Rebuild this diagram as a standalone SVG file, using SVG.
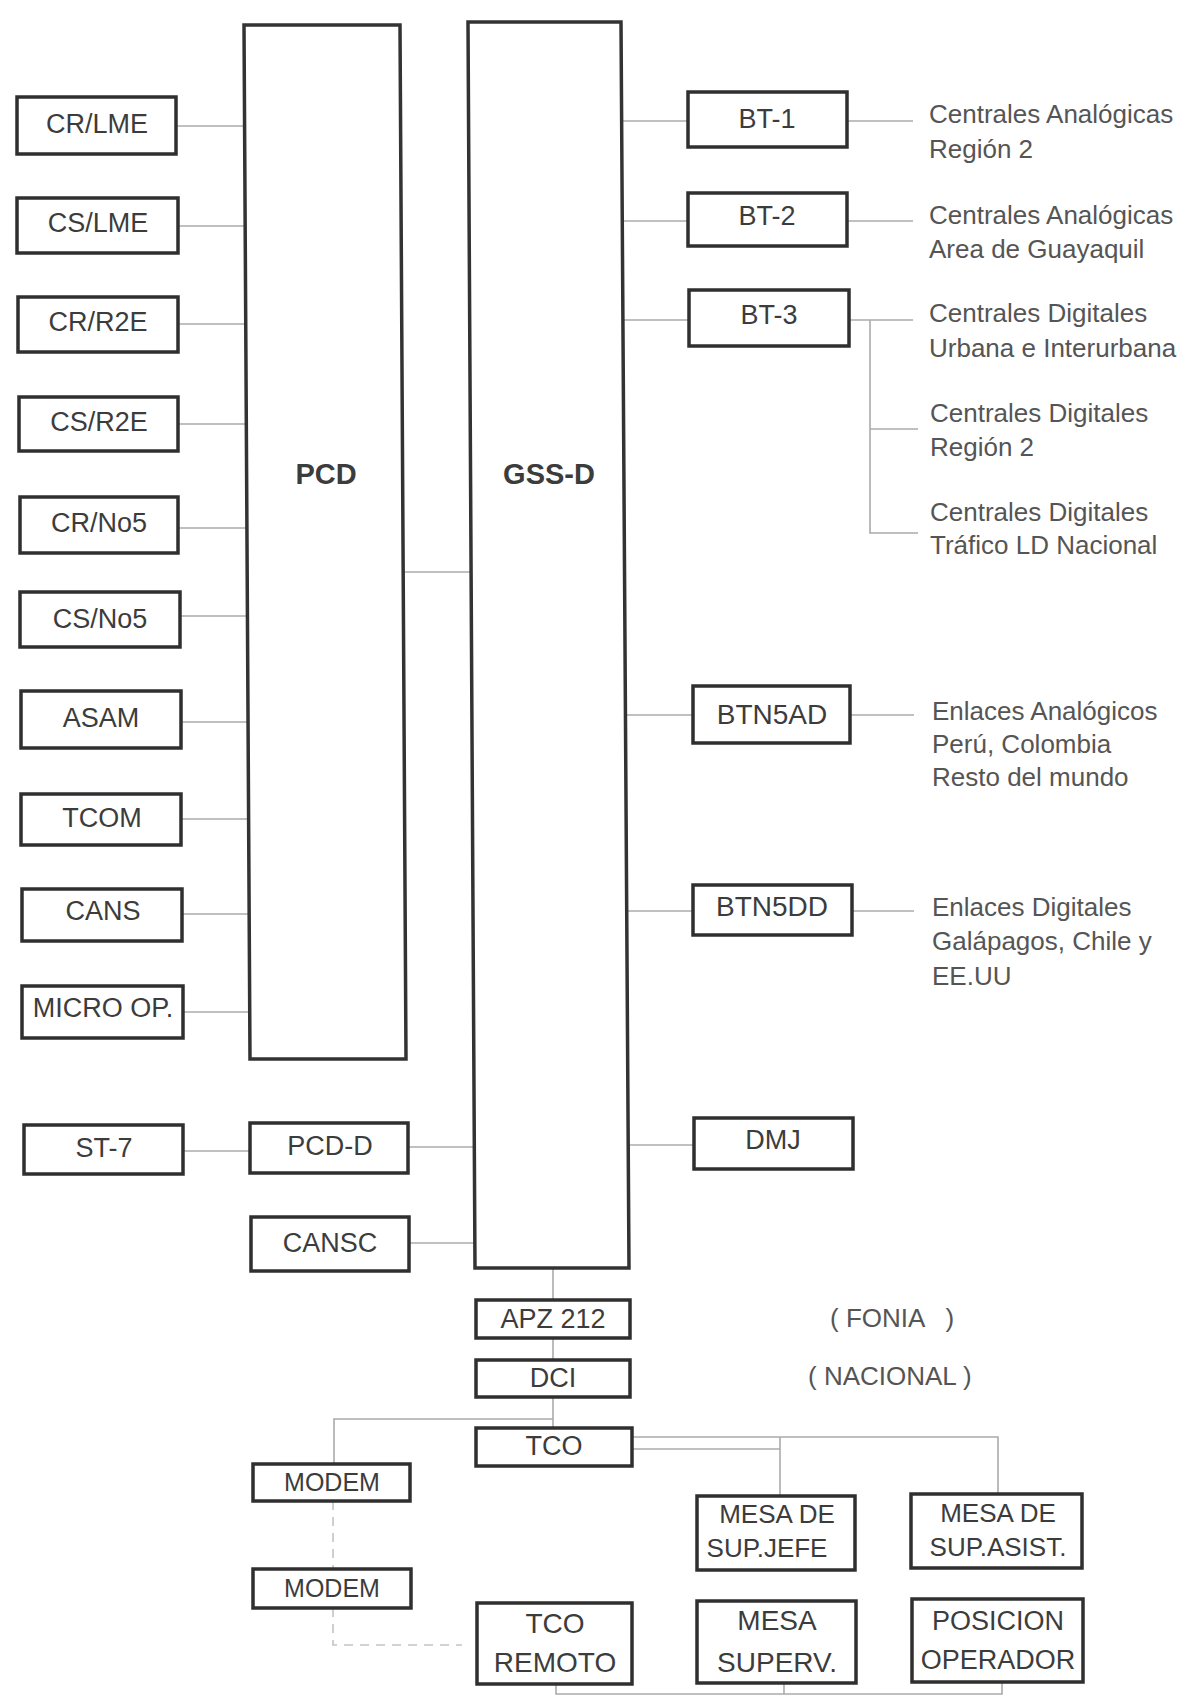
<svg xmlns="http://www.w3.org/2000/svg" width="1193" height="1697" viewBox="0 0 1193 1697">
<style>
.box{fill:#fff;stroke:#2f2f2f;stroke-width:3.5}
.big{fill:#fff;stroke:#333;stroke-width:3.5}
.lbl{font-family:"Liberation Sans",Arial,sans-serif;font-size:27px;fill:#3c3c3c;text-anchor:middle}
.s25{font-size:25px}
.s26{font-size:26px}
.s28{font-size:28px}
.bold{font-weight:bold;font-size:29px}
.desc{font-family:"Liberation Sans",Arial,sans-serif;font-size:26px;fill:#555}
.pre{white-space:pre}
.conn{stroke:#ababab;stroke-width:1.6;fill:none}
.dash{stroke:#c4c4c4;stroke-dasharray:9 7}
</style>
<rect width="1193" height="1697" fill="#fff"/>
<g id="connectors">
<line class="conn" x1="176" y1="126" x2="245" y2="126"/>
<line class="conn" x1="178" y1="226" x2="245" y2="226"/>
<line class="conn" x1="178" y1="324" x2="246" y2="324"/>
<line class="conn" x1="178" y1="424" x2="246" y2="424"/>
<line class="conn" x1="178" y1="528" x2="247" y2="528"/>
<line class="conn" x1="180" y1="616" x2="247" y2="616"/>
<line class="conn" x1="181" y1="722" x2="248" y2="722"/>
<line class="conn" x1="181" y1="819" x2="249" y2="819"/>
<line class="conn" x1="182" y1="914" x2="249" y2="914"/>
<line class="conn" x1="183" y1="1012" x2="250" y2="1012"/>
<line class="conn" x1="403" y1="572" x2="471" y2="572"/>
<line class="conn" x1="621" y1="121" x2="688" y2="121"/>
<line class="conn" x1="622" y1="221" x2="688" y2="221"/>
<line class="conn" x1="623" y1="320" x2="689" y2="320"/>
<line class="conn" x1="626" y1="715" x2="693" y2="715"/>
<line class="conn" x1="627" y1="911" x2="693" y2="911"/>
<line class="conn" x1="628" y1="1145" x2="694" y2="1145"/>
<line class="conn" x1="847" y1="121" x2="913" y2="121"/>
<line class="conn" x1="847" y1="221" x2="913" y2="221"/>
<line class="conn" x1="849" y1="320" x2="913" y2="320"/>
<polyline class="conn" points="870,320 870,533 918,533"/>
<line class="conn" x1="870" y1="429" x2="918" y2="429"/>
<line class="conn" x1="850" y1="715" x2="914" y2="715"/>
<line class="conn" x1="852" y1="911" x2="914" y2="911"/>
<line class="conn" x1="183" y1="1151" x2="250" y2="1151"/>
<line class="conn" x1="408" y1="1147" x2="474" y2="1147"/>
<line class="conn" x1="408" y1="1243" x2="475" y2="1243"/>
<line class="conn" x1="553" y1="1268" x2="553" y2="1300"/>
<line class="conn" x1="553" y1="1338" x2="553" y2="1360"/>
<line class="conn" x1="553" y1="1397" x2="553" y2="1427"/>
<polyline class="conn" points="553,1419 334,1419 334,1464"/>
<polyline class="conn" points="632,1437 998,1437 998,1494"/>
<line class="conn" x1="632" y1="1449" x2="780" y2="1449"/>
<line class="conn" x1="780" y1="1437" x2="780" y2="1496"/>
<line class="conn dash" x1="333" y1="1501" x2="333" y2="1569"/>
<polyline class="conn dash" points="333,1608 333,1645 462,1645"/>
<polyline class="conn" points="556,1684 556,1694 1002,1694 1002,1682"/>
<line class="conn" x1="784" y1="1683" x2="784" y2="1694"/>
</g>
<g id="PCD"><polygon class="big" points="244,25 400,25 406,1059 250,1059"/><text class="lbl bold" x="326" y="484">PCD</text></g>
<g id="GSS-D"><polygon class="big" points="468,22 621,22 629,1268 475,1268"/><text class="lbl bold" x="549" y="484">GSS-D</text></g>
<g id="CR-LME"><rect class="box" x="17" y="97" width="159" height="57"/><text class="lbl" x="97" y="133">CR/LME</text></g>
<g id="CS-LME"><rect class="box" x="17" y="198" width="161" height="55"/><text class="lbl" x="98" y="232">CS/LME</text></g>
<g id="CR-R2E"><rect class="box" x="18" y="297" width="160" height="55"/><text class="lbl" x="98" y="331">CR/R2E</text></g>
<g id="CS-R2E"><rect class="box" x="19" y="397" width="159" height="54"/><text class="lbl" x="99" y="431">CS/R2E</text></g>
<g id="CR-No5"><rect class="box" x="20" y="497" width="158" height="56"/><text class="lbl" x="99" y="532">CR/No5</text></g>
<g id="CS-No5"><rect class="box" x="20" y="592" width="160" height="55"/><text class="lbl" x="100" y="628">CS/No5</text></g>
<g id="ASAM"><rect class="box" x="21" y="691" width="160" height="57"/><text class="lbl" x="101" y="727">ASAM</text></g>
<g id="TCOM"><rect class="box" x="21" y="794" width="160" height="51"/><text class="lbl" x="102" y="827">TCOM</text></g>
<g id="CANS"><rect class="box" x="22" y="889" width="160" height="52"/><text class="lbl" x="103" y="920">CANS</text></g>
<g id="MICRO-OP"><rect class="box" x="22" y="986" width="161" height="52"/><text class="lbl" x="103" y="1017">MICRO OP.</text></g>
<g id="ST-7"><rect class="box" x="24" y="1125" width="159" height="49"/><text class="lbl" x="104" y="1157">ST-7</text></g>
<g id="PCD-D"><rect class="box" x="250" y="1123" width="158" height="50"/><text class="lbl" x="330" y="1155">PCD-D</text></g>
<g id="CANSC"><rect class="box" x="251" y="1217" width="158" height="54"/><text class="lbl" x="330" y="1252">CANSC</text></g>
<g id="BT-1"><rect class="box" x="688" y="92" width="159" height="55"/><text class="lbl" x="767" y="128">BT-1</text></g>
<g id="BT-2"><rect class="box" x="688" y="193" width="159" height="53"/><text class="lbl" x="767" y="225">BT-2</text></g>
<g id="BT-3"><rect class="box" x="689" y="290" width="160" height="56"/><text class="lbl" x="769" y="324">BT-3</text></g>
<g id="BTN5AD"><rect class="box" x="693" y="686" width="157" height="57"/><text class="lbl s28" x="772" y="724">BTN5AD</text></g>
<g id="BTN5DD"><rect class="box" x="693" y="885" width="159" height="50"/><text class="lbl s28" x="772" y="916">BTN5DD</text></g>
<g id="DMJ"><rect class="box" x="694" y="1118" width="159" height="51"/><text class="lbl" x="773" y="1149">DMJ</text></g>
<g id="APZ212"><rect class="box" x="476" y="1300" width="154" height="38"/><text class="lbl" x="553" y="1328">APZ 212</text></g>
<g id="DCI"><rect class="box" x="476" y="1360" width="154" height="37"/><text class="lbl" x="553" y="1387">DCI</text></g>
<g id="TCO"><rect class="box" x="476" y="1428" width="156" height="38"/><text class="lbl" x="554" y="1455">TCO</text></g>
<g id="MODEM1"><rect class="box" x="253" y="1464" width="157" height="37"/><text class="lbl s25" x="332" y="1491">MODEM</text></g>
<g id="MODEM2"><rect class="box" x="253" y="1569" width="158" height="39"/><text class="lbl s25" x="332" y="1597">MODEM</text></g>
<g id="TCO-REMOTO"><rect class="box" x="477" y="1603" width="155" height="81"/><text class="lbl s28" x="555" y="1633">TCO</text><text class="lbl s28" x="555" y="1672">REMOTO</text></g>
<g id="MESA-SUP-JEFE"><rect class="box" x="697" y="1496" width="158" height="74"/><text class="lbl s26" x="777" y="1523">MESA DE</text><text class="lbl s26" x="767" y="1557">SUP.JEFE</text></g>
<g id="MESA-SUP-ASIST"><rect class="box" x="911" y="1494" width="171" height="74"/><text class="lbl s26" x="998" y="1522">MESA DE</text><text class="lbl s26" x="998" y="1556">SUP.ASIST.</text></g>
<g id="MESA-SUPERV"><rect class="box" x="697" y="1601" width="159" height="82"/><text class="lbl s28" x="777" y="1630">MESA</text><text class="lbl s28" x="777" y="1672">SUPERV.</text></g>
<g id="POSICION-OPERADOR"><rect class="box" x="912" y="1599" width="171" height="83"/><text class="lbl" x="998" y="1630">POSICION</text><text class="lbl" x="998" y="1669">OPERADOR</text></g>
<g id="descriptions">
<text class="desc" x="929" y="123">Centrales Analógicas</text>
<text class="desc" x="929" y="158">Región 2</text>
<text class="desc" x="929" y="224">Centrales Analógicas</text>
<text class="desc" x="929" y="258">Area de Guayaquil</text>
<text class="desc" x="929" y="322">Centrales Digitales</text>
<text class="desc" x="929" y="357">Urbana e Interurbana</text>
<text class="desc" x="930" y="422">Centrales Digitales</text>
<text class="desc" x="930" y="456">Región 2</text>
<text class="desc" x="930" y="521">Centrales Digitales</text>
<text class="desc" x="930" y="554">Tráfico LD Nacional</text>
<text class="desc" x="932" y="720">Enlaces Analógicos</text>
<text class="desc" x="932" y="753">Perú, Colombia</text>
<text class="desc" x="932" y="786">Resto del mundo</text>
<text class="desc" x="932" y="916">Enlaces Digitales</text>
<text class="desc" x="932" y="950">Galápagos, Chile y</text>
<text class="desc" x="932" y="985">EE.UU</text>
<text class="desc pre" x="830" y="1327" fill="#444">( FONIA   )</text>
<text class="desc" x="808" y="1385" fill="#444">( NACIONAL )</text>
</g>
</svg>
